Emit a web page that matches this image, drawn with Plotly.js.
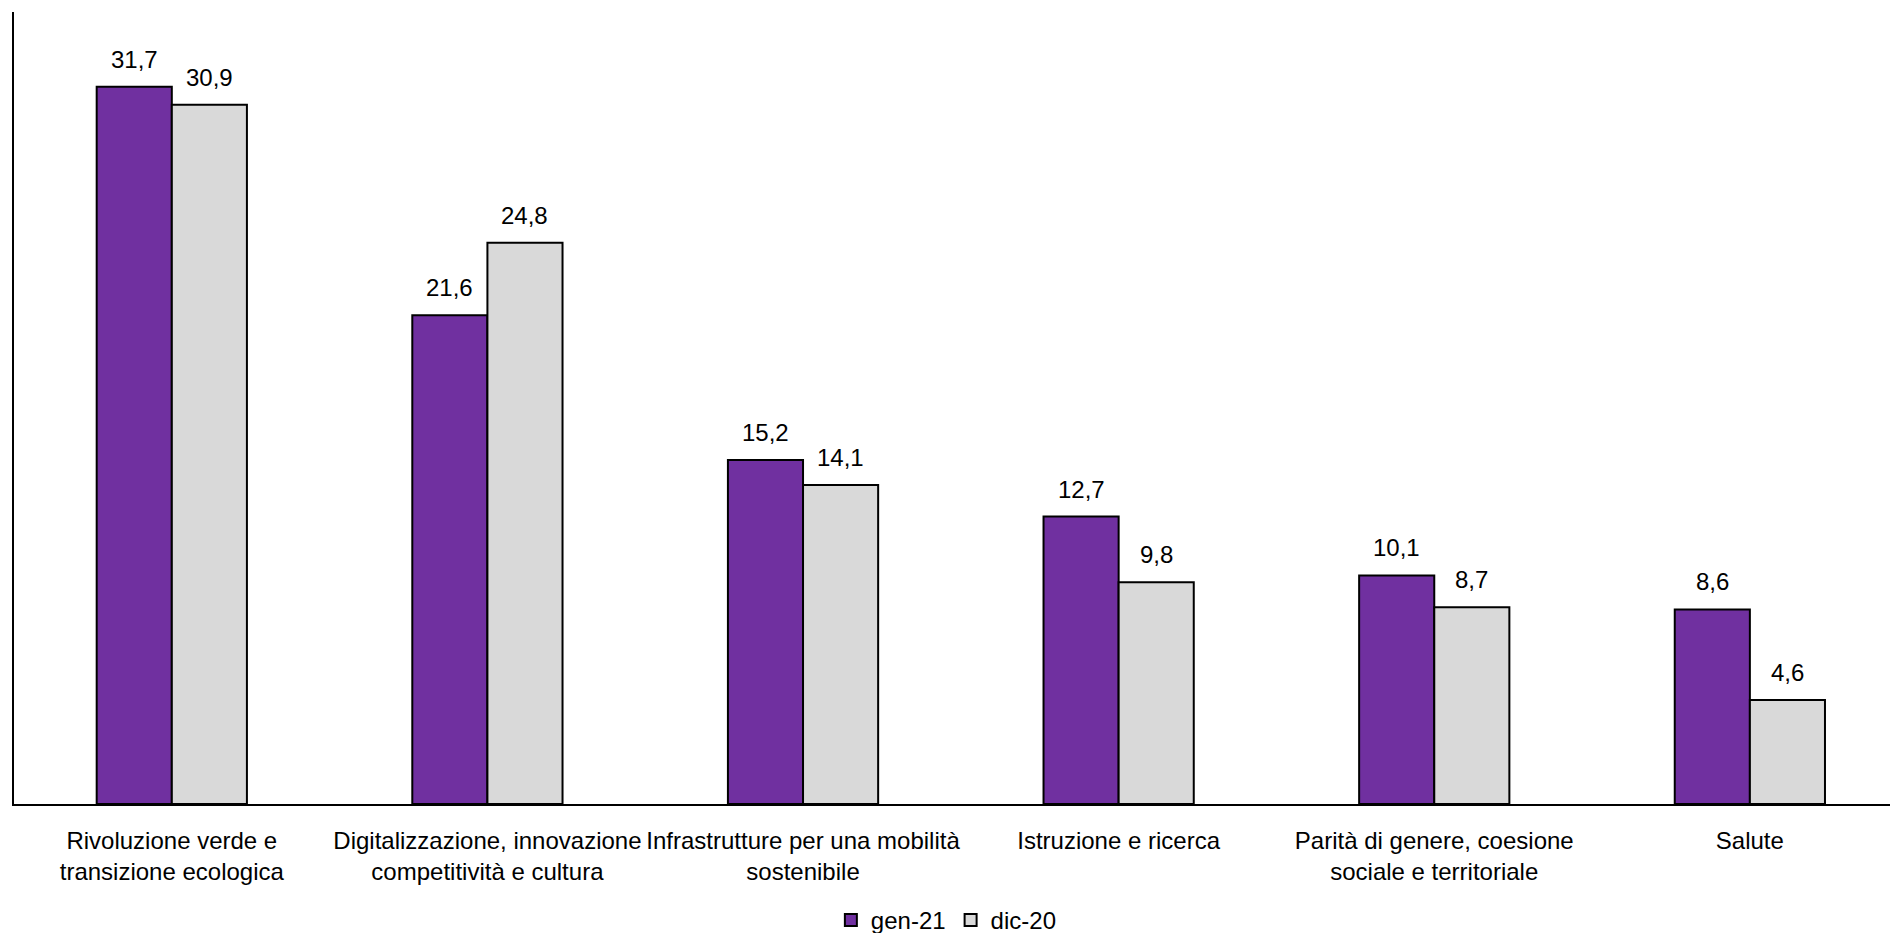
<!DOCTYPE html>
<html>
<head>
<meta charset="utf-8">
<script src="https://cdn.plot.ly/plotly-3.0.1.min.js"></script>
<style>html,body{margin:0;padding:0;background:#fff;}#chart{width:1890px;height:933px;}</style>
</head>
<body>
<div id="chart"></div>
<script>
const categories = [
  "Rivoluzione verde e<br>transizione ecologica",
  "Digitalizzazione, innovazione<br>competitività e cultura",
  "Infrastrutture per una mobilità<br>sostenibile",
  "Istruzione e ricerca",
  "Parità di genere, coesione<br>sociale e territoriale",
  "Salute"
];
const seriesNames = ["gen-21", "dic-20"];
const gen21 = [31.7, 21.6, 15.2, 12.7, 10.1, 8.6];
const dic20 = [30.9, 24.8, 14.1, 9.8, 8.7, 4.6];

const FONT = "'Liberation Sans Narrow', 'Arial Narrow', 'Liberation Sans', Arial, sans-serif";
const idx = categories.map((_, i) => i);
const BW = 0.238;

const traces = [
  {
    type: 'bar', name: seriesNames[0], x: idx, y: gen21,
    width: BW, offset: -BW,
    marker: {color: '#7030A0', line: {color: '#000', width: 2}},
    hoverinfo: 'skip'
  },
  {
    type: 'bar', name: seriesNames[1], x: idx, y: dic20,
    width: BW, offset: 0,
    marker: {color: '#D9D9D9', line: {color: '#000', width: 2}},
    hoverinfo: 'skip'
  }
];

const fmt = v => v.toFixed(1).replace('.', ',');
const annotations = [];
gen21.forEach((v, i) => annotations.push({
  x: i - BW / 2, y: v, xref: 'x', yref: 'y', text: fmt(v), showarrow: false,
  yanchor: 'bottom', yshift: 12, font: {family: FONT, size: 24, color: '#000'}
}));
dic20.forEach((v, i) => annotations.push({
  x: i + BW / 2, y: v, xref: 'x', yref: 'y', text: fmt(v), showarrow: false,
  yanchor: 'bottom', yshift: 12, font: {family: FONT, size: 24, color: '#000'}
}));

const layout = {
  width: 1890, height: 933,
  margin: {l: 14, r: 0, t: 12, b: 129, autoexpand: false},
  paper_bgcolor: '#fff', plot_bgcolor: '#fff',
  font: {family: FONT, size: 24, color: '#000'},
  barmode: 'group',
  showlegend: true,
  legend: {
    orientation: 'h', x: 0.497, xanchor: 'center', y: -0.147, yanchor: 'middle',
    font: {family: FONT, size: 24, color: '#000'},
    itemwidth: 30, traceorder: 'normal'
  },
  xaxis: {
    range: [-0.5, 5.444],
    tickmode: 'array', tickvals: idx, ticktext: categories,
    showline: true, linecolor: '#000', linewidth: 2,
    showgrid: false, zeroline: false, ticks: '',
    ticklabelstandoff: 14,
    tickfont: {family: FONT, size: 24, color: '#000'}
  },
  yaxis: {
    range: [0, 35],
    showline: true, linecolor: '#000', linewidth: 2,
    showgrid: false, zeroline: false, ticks: '', showticklabels: false
  },
  annotations: annotations
};

Plotly.newPlot('chart', traces, layout, {displayModeBar: false, staticPlot: true});
</script>
</body>
</html>
